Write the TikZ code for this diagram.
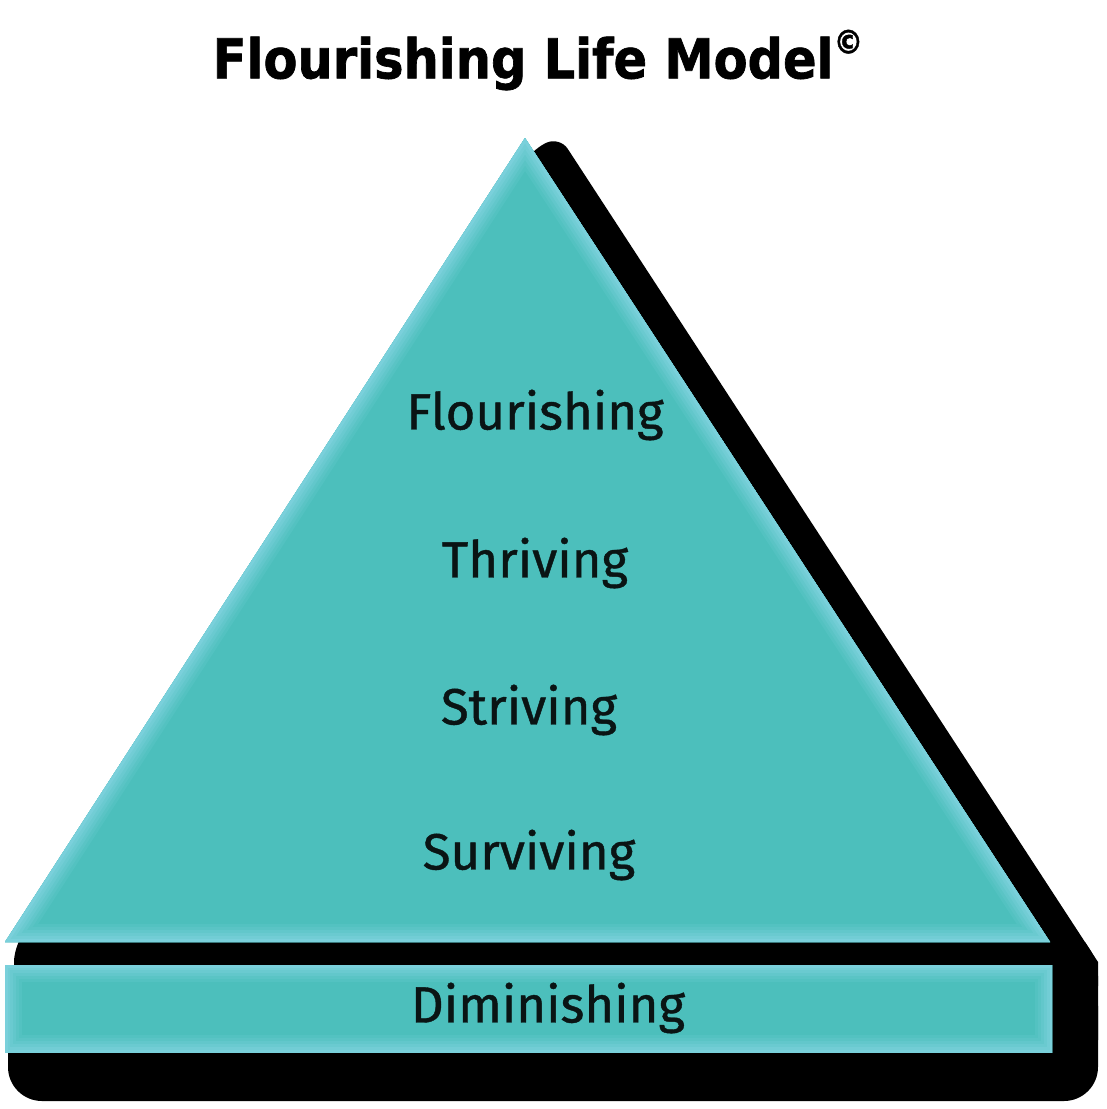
\documentclass[tikz,border=0pt]{standalone}
\usepackage{fontspec}
\setmainfont{Fira Sans}
\newfontfamily\lvlfont[FakeBold=0.8]{Fira Sans}
\newfontfamily\titlefont[FakeBold=1.2]{DejaVu Sans Condensed Bold}
\usetikzlibrary{calc}
\definecolor{teal1}{HTML}{4CBFBC}
\definecolor{tealedge}{HTML}{7AD0DB}
\definecolor{txt}{HTML}{0A1414}
\tikzset{
  lvl/.style={font=\lvlfont\fontsize{51}{56}\selectfont, text=txt, inner sep=0pt},
}
\begin{document}
\begin{tikzpicture}[x=1pt,y=-1pt]
\useasboundingbox[fill=white] (0,0) rectangle (1107,1109);
% shadows
\fill[black, rounded corners=14pt] (534,148) -- (560,137) -- (1098,962) -- (1098,1000) -- (14,1000) -- (14,948) -- cycle;
\fill[black, rounded corners=34pt] (8,972) rectangle (1098,1101);
\fill[black] (1040,942) -- (1085,942) -- (1098,962) -- (1098,1040) -- (1040,1040) -- cycle;
% triangle
\coordinate (A) at (525,138);
\coordinate (B) at (1050,942);
\coordinate (C) at (5,942);
\begin{scope}
  \clip (A) -- (B) -- (C) -- cycle;
  \fill[teal1] (A) -- (B) -- (C) -- cycle;
  \foreach \w/\p in {36/15, 30/30, 24/48, 18/65, 12/82, 6/100}{
    \draw[tealedge!\p!teal1, line width=\w pt, line join=miter] (A) -- (B) -- (C) -- cycle;
  }
\end{scope}
% bar
\begin{scope}
  \clip (5,965) rectangle (1052,1052);
  \fill[teal1] (5,965) rectangle (1052,1052);
  \foreach \w/\p in {34/15, 28/30, 22/48, 16/65, 10/82, 5/100}{
    \draw[tealedge!\p!teal1, line width=\w pt] (5,965) rectangle (1052,1052);
  }
\end{scope}
% labels
\node[lvl] (fl) at (535,415) {Flourishing};
\node[lvl] (th) at (535,563) {Thriving};
\node[lvl] (st) at (529,710) {Striving};
\node[lvl] (su) at (529,855) {Surviving};
\node[lvl] (di) at (548,1008) {Diminishing};
% title
\node[inner sep=0pt, font=\titlefont\fontsize{55}{60}\selectfont] (title) at (538,60) {Flourishing Life Model\raisebox{0.45em}{\fontsize{33}{36}\selectfont\textcopyright}};
\end{tikzpicture}
\end{document}
